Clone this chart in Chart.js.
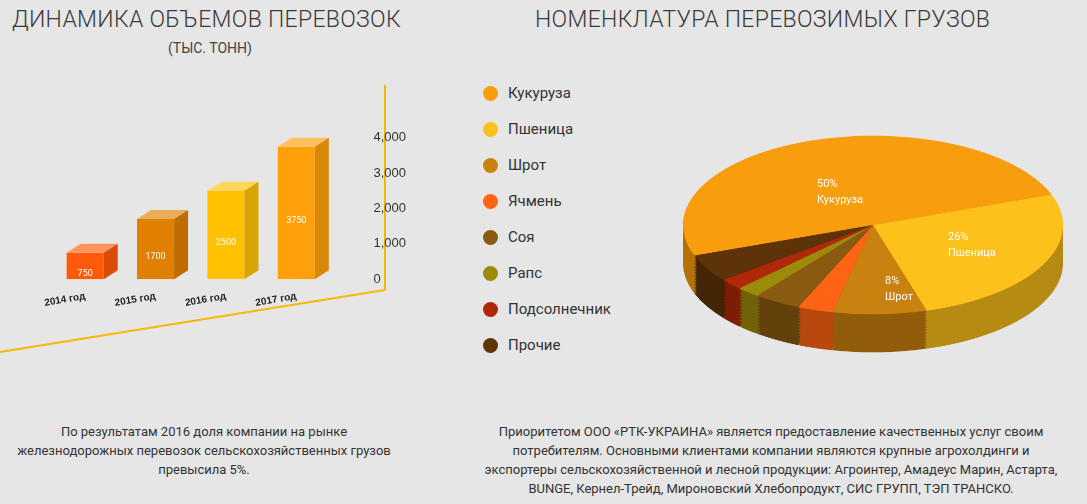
<!DOCTYPE html>
<html><head><meta charset="utf-8">
<script src="https://cdn.jsdelivr.net/npm/chart.js@4/dist/chart.umd.min.js"></script>
<style>
body{margin:0;width:1087px;height:504px;background:#e6e6e6;font-family:Roboto,"Open Sans",sans-serif;position:relative;overflow:hidden;color:#333}
.abs{position:absolute}
.t1{font-size:23px;font-weight:300;color:#3a3a3a;letter-spacing:.3px}
.lg{font-size:15px;color:#333}
.dot{position:absolute;width:15px;height:15px;border-radius:50%}
.pl{color:#fff;font-size:11px;text-align:left;line-height:16px}
.txt{font-size:13px;text-align:center;line-height:19px;color:#333}
</style></head><body>
<div class="abs t1" style="left:12px;top:6px">ДИНАМИКА ОБЪЕМОВ ПЕРЕВОЗОК</div>
<div class="abs" style="left:168px;top:40px;font-size:14px;color:#444">(ТЫС. ТОНН)</div>
<div class="abs t1" style="left:535px;top:6px">НОМЕНКЛАТУРА ПЕРЕВОЗИМЫХ ГРУЗОВ</div>
<svg class="abs" style="left:0;top:0" width="440" height="400"><line x1="0" y1="352" x2="385" y2="290" stroke="#f5b800" stroke-width="2"/><line x1="385" y1="85" x2="385" y2="290" stroke="#f5b800" stroke-width="2"/></svg>
<div class="abs" style="left:20px;top:96px;width:420px;height:225px"><canvas id="bar"></canvas></div>
<div id="legend"></div>
<div id="pies"></div>
<div class="abs pl" style="left:817px;top:176px">50%<br>Кукуруза</div>
<div class="abs pl" style="left:948px;top:229px">26%<br>Пшеница</div>
<div class="abs pl" style="left:885px;top:273px">8%<br>Шрот</div>
<div class="abs txt" style="left:4px;top:422px;width:400px">По результатам 2016 доля компании на рынке<br>железнодорожных перевозок сельскохозяйственных грузов<br>превысила 5%.</div>
<div class="abs txt" style="left:455px;top:422px;width:632px">Приоритетом ООО «РТК-УКРАИНА» является предоставление качественных услуг своим<br>потребителям. Основными клиентами компании являются крупные агрохолдинги и<br>экспортеры сельскохозяйственной и лесной продукции: Агроинтер, Амадеус Марин, Астарта,<br>BUNGE, Кернел-Трейд, Мироновский Хлебопродукт, СИС ГРУПП, ТЭП ТРАНСКО.</div>
<script>
const years=["2014 год","2015 год","2016 год","2017 год"];
const volumes=[750,1700,2500,3750];
const barColors=["#ff5a0a","#e07f00","#ffc000","#ff9f0a"];
const yTicks=[0,1000,2000,3000,4000];
const cargo=["Кукуруза","Пшеница","Шрот","Ячмень","Соя","Рапс","Подсолнечник","Прочие"];
const shares=[50,26,8,3,4,2,2,5];
const pieColors=["#f89d0e","#fdc11b","#c9810f","#ff6414","#8a5a10","#9c8a0a","#b0280a","#5e3309"];

function shade(hex,f){const n=parseInt(hex.slice(1),16);let r=n>>16,g=(n>>8)&255,b=n&255;
 const m=c=>Math.max(0,Math.min(255,Math.round(f<1?c*f:c+(255-c)*(f-1))));return `rgb(${m(r)},${m(g)},${m(b)})`;}

const bar3d={id:'bar3d',afterDatasetsDraw(ch){const ctx=ch.ctx;const meta=ch.getDatasetMeta(0);
 meta.data.forEach((el,i)=>{const w=el.width,x0=el.x-w/2,x1=el.x+w/2,y=el.y,b=el.base,d=14,dy=9,c=barColors[i];
  ctx.fillStyle=shade(c,1.35);ctx.beginPath();ctx.moveTo(x0,y);ctx.lineTo(x1,y);ctx.lineTo(x1+d,y-dy);ctx.lineTo(x0+d,y-dy);ctx.closePath();ctx.fill();
  ctx.fillStyle=shade(c,0.85);ctx.beginPath();ctx.moveTo(x1,y);ctx.lineTo(x1+d,y-dy);ctx.lineTo(x1+d,b-dy);ctx.lineTo(x1,b);ctx.closePath();ctx.fill();
  ctx.fillStyle="#fff";ctx.font="9px Roboto";ctx.textAlign="center";ctx.fillText(String(volumes[i]),el.x,(y+b)/2+10);});}};
new Chart(document.getElementById('bar'),{type:'bar',data:{labels:years,datasets:[{data:volumes,backgroundColor:barColors,barPercentage:0.62,categoryPercentage:0.85}]},
 options:{responsive:true,maintainAspectRatio:false,animation:false,plugins:{legend:{display:false},tooltip:{enabled:false}},
 layout:{padding:{top:14,left:30,right:0}},
 scales:{x:{grid:{display:false},border:{display:false},ticks:{color:"#222",font:{size:10,weight:'bold'},maxRotation:10,minRotation:10}},
 y:{position:'right',min:0,max:4000,afterBuildTicks:s=>{s.ticks=yTicks.map(v=>({value:v}))},grid:{display:false},border:{display:false},
 ticks:{color:"#333",font:{size:13},padding:34,callback:v=>v.toLocaleString('en-US')}}}},plugins:[bar3d]});

const lg=document.getElementById('legend');
cargo.forEach((c,i)=>{const y=86+i*36;lg.insertAdjacentHTML('beforeend',`<div class="dot" style="left:483px;top:${y}px;background:${pieColors[i]}"></div><div class="abs lg" style="left:508px;top:${y-2}px">${c}</div>`);});

const pies=document.getElementById('pies');
const R=190,depth=38,scaleY=0.47;
function mkPie(off,cols){const d=document.createElement('div');d.className='abs';
 d.style.cssText=`left:${873-R}px;top:${225-R+off}px;width:${2*R}px;height:${2*R}px;transform:scaleY(${scaleY});transform-origin:center`;
 const cv=document.createElement('canvas');d.appendChild(cv);pies.appendChild(d);
 new Chart(cv,{type:'pie',data:{labels:cargo,datasets:[{data:shares,backgroundColor:cols,borderWidth:0}]},
  options:{responsive:true,maintainAspectRatio:false,animation:false,rotation:-110,plugins:{legend:{display:false},tooltip:{enabled:false}}}});}
const dark=pieColors.map(c=>shade(c,0.72));
for(let o=depth;o>0;o-=3)mkPie(o,dark);
mkPie(0,pieColors);
</script></body></html>
